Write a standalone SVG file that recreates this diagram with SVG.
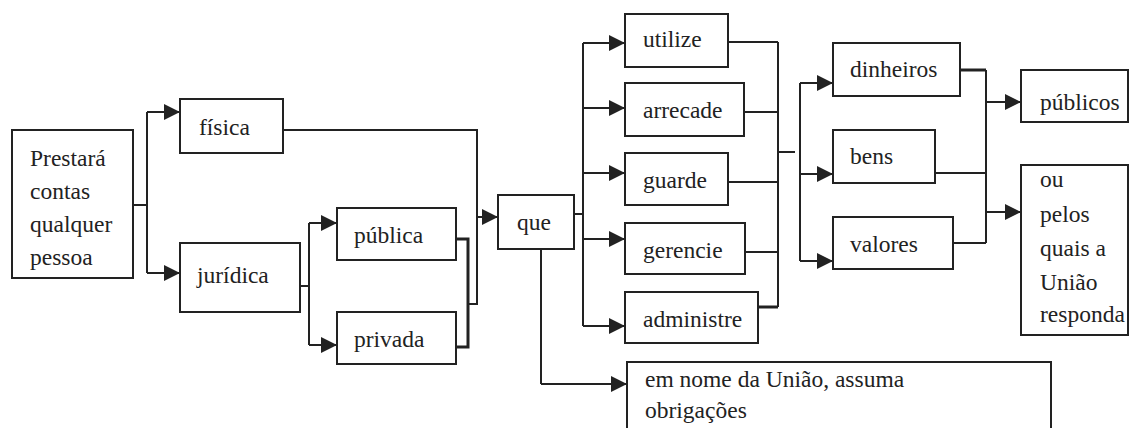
<svg xmlns="http://www.w3.org/2000/svg" width="1130" height="428" viewBox="0 0 1130 428">
  <style>
    .box { fill: #fff; stroke: #222; stroke-width: 2; }
    .lbl { font-size: 23.5px; fill: #222; }
    .wire { fill: none; stroke: #222; stroke-width: 2; }
    .thick { fill: none; stroke: #222; stroke-width: 3; }
    .arr { fill: none; stroke: #222; stroke-width: 2; marker-end: url(#head); }
  </style>
  <defs>
    <marker id="head" markerUnits="userSpaceOnUse" markerWidth="17" markerHeight="16" refX="16" refY="8" orient="auto">
      <path d="M0,0 L16,8 L0,16 z" fill="#222"/>
    </marker>
  </defs>
  <rect width="1130" height="428" fill="#fff"/>

  <g id="connectors">
    <!-- root split -->
    <path class="wire" d="M133,205 H147 M147,112 V273"/>
    <path class="arr" d="M147,112 H180"/>
    <path class="arr" d="M147,273 H180"/>
    <!-- juridica split -->
    <path class="wire" d="M300,286 H309 M309,223 V345"/>
    <path class="arr" d="M309,223 H337"/>
    <path class="arr" d="M309,345 H337"/>
    <!-- merge into que -->
    <path class="thick" d="M456,239 H468 V347 H456"/>
    <path class="wire" d="M283,130 H477 V304 H468"/>
    <path class="arr" d="M477,217 H498"/>
    <!-- que to verbs -->
    <path class="wire" d="M574,214 H583 M583,43 V326"/>
    <path class="arr" d="M583,43 H625"/>
    <path class="arr" d="M583,108 H625"/>
    <path class="arr" d="M583,173 H625"/>
    <path class="arr" d="M583,239 H625"/>
    <path class="arr" d="M583,326 H625"/>
    <path class="wire" d="M541,249 V384"/>
    <path class="arr" d="M541,384 H627"/>
    <!-- verbs merge -->
    <path class="wire" d="M728,42 H778 M744,112 H778 M728,182 H778 M745,252 H778 M778,42 V307 M778,152 H795"/>
    <path class="thick" d="M758,307 H778"/>
    <!-- objects split -->
    <path class="wire" d="M800,83 V261"/>
    <path class="arr" d="M800,83 H833"/>
    <path class="arr" d="M800,174 H833"/>
    <path class="arr" d="M800,261 H833"/>
    <!-- objects merge -->
    <path class="thick" d="M960,70 H986"/>
    <path class="wire" d="M935,173 H986 M953,243 H986 M986,70 V243"/>
    <path class="arr" d="M986,102 H1021"/>
    <path class="arr" d="M986,212 H1021"/>
  </g>

  <g font-family="'Liberation Serif', 'DejaVu Serif', serif">
  <g id="prestara">
    <rect class="box" x="12" y="130" width="121" height="148"/>
    <text class="lbl" x="30" y="166">Prestará</text>
    <text class="lbl" x="30" y="199">contas</text>
    <text class="lbl" x="30" y="232">qualquer</text>
    <text class="lbl" x="30" y="265">pessoa</text>
  </g>
  <g id="fisica">
    <rect class="box" x="180" y="99" width="103" height="54"/>
    <text class="lbl" x="199" y="135">física</text>
  </g>
  <g id="juridica">
    <rect class="box" x="180" y="243" width="120" height="69"/>
    <text class="lbl" x="197" y="283">jurídica</text>
  </g>
  <g id="publica">
    <rect class="box" x="337" y="208" width="119" height="52"/>
    <text class="lbl" x="354" y="243">pública</text>
  </g>
  <g id="privada">
    <rect class="box" x="337" y="312" width="119" height="52"/>
    <text class="lbl" x="354" y="347">privada</text>
  </g>
  <g id="que">
    <rect class="box" x="498" y="195" width="76" height="54"/>
    <text class="lbl" x="517" y="230">que</text>
  </g>
  <g id="utilize">
    <rect class="box" x="625" y="14" width="103" height="53"/>
    <text class="lbl" x="643" y="47">utilize</text>
  </g>
  <g id="arrecade">
    <rect class="box" x="625" y="83" width="119" height="53"/>
    <text class="lbl" x="643" y="118">arrecade</text>
  </g>
  <g id="guarde">
    <rect class="box" x="625" y="153" width="103" height="52"/>
    <text class="lbl" x="643" y="188">guarde</text>
  </g>
  <g id="gerencie">
    <rect class="box" x="625" y="223" width="120" height="51"/>
    <text class="lbl" x="643" y="258">gerencie</text>
  </g>
  <g id="administre">
    <rect class="box" x="625" y="292" width="133" height="51"/>
    <text class="lbl" x="643" y="327">administre</text>
  </g>
  <g id="em-nome">
    <rect class="box" x="627" y="362" width="424" height="80"/>
    <text class="lbl" x="645" y="387">em nome da União, assuma</text>
    <text class="lbl" x="645" y="418">obrigações</text>
  </g>
  <g id="dinheiros">
    <rect class="box" x="833" y="43" width="127" height="53"/>
    <text class="lbl" x="850" y="77">dinheiros</text>
  </g>
  <g id="bens">
    <rect class="box" x="833" y="130" width="102" height="53"/>
    <text class="lbl" x="850" y="164">bens</text>
  </g>
  <g id="valores">
    <rect class="box" x="833" y="217" width="120" height="52"/>
    <text class="lbl" x="850" y="252">valores</text>
  </g>
  <g id="publicos">
    <rect class="box" x="1021" y="70" width="107" height="52"/>
    <text class="lbl" x="1040" y="110">públicos</text>
  </g>
  <g id="ou-pelos">
    <rect class="box" x="1021" y="165" width="107" height="170"/>
    <text class="lbl" x="1040" y="187">ou</text>
    <text class="lbl" x="1040" y="222">pelos</text>
    <text class="lbl" x="1040" y="256">quais a</text>
    <text class="lbl" x="1040" y="290">União</text>
    <text class="lbl" x="1040" y="322">responda</text>
  </g>
  </g>
</svg>
